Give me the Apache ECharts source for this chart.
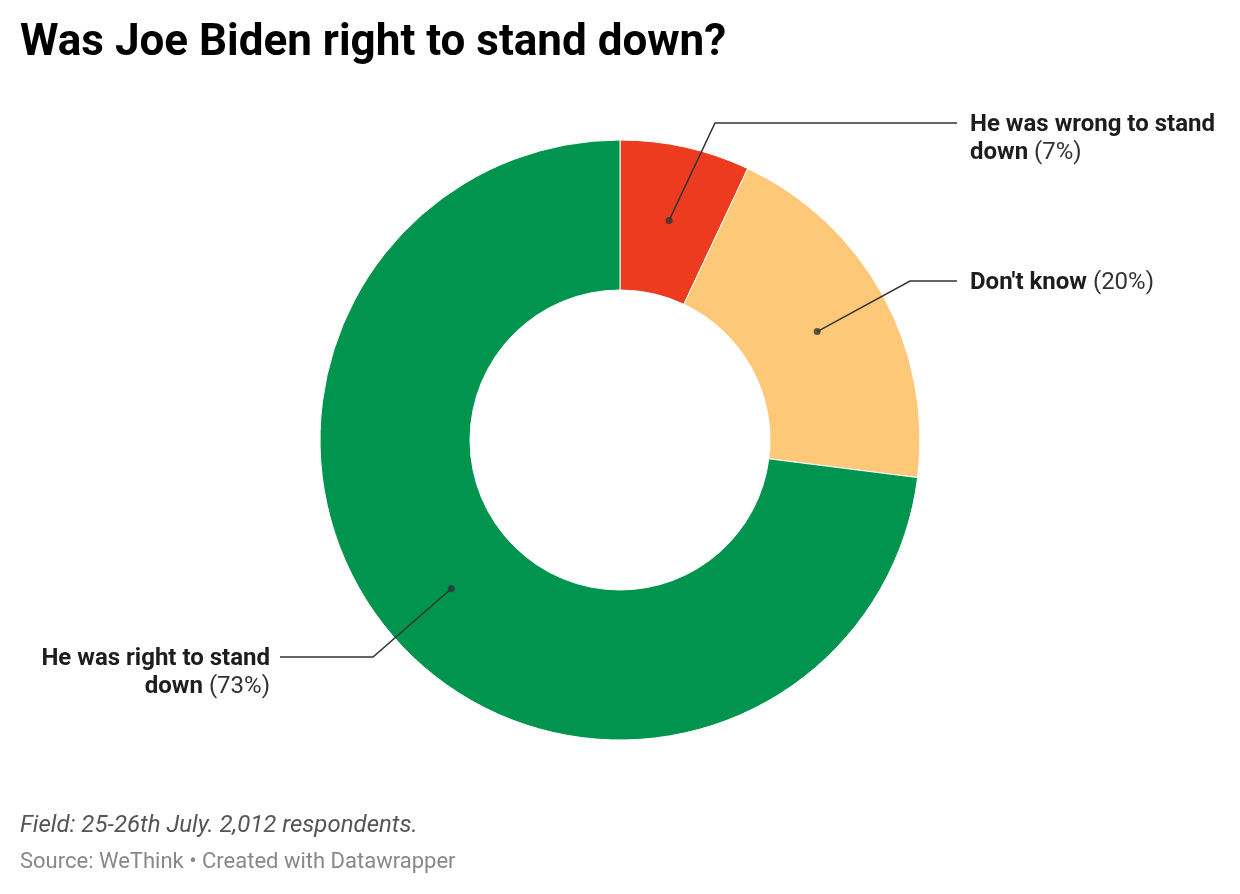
<!DOCTYPE html>
<html>
<head>
<meta charset="utf-8">
<script src="https://cdn.jsdelivr.net/npm/echarts@6/dist/echarts.min.js"></script>
<style>
html,body{margin:0;padding:0;background:#fff;}
#chart{width:1240px;height:894px;}
</style>
</head>
<body>
<div id="chart"></div>
<script>
// ---- data ----
const categories = ['He was wrong to stand down', "Don't know", 'He was right to stand down'];
const values = [7, 20, 73];
const colors = ['#ED3B20', '#FDC978', '#00944F'];
const titleText = 'Was Joe Biden right to stand down?';
const noteText = 'Field: 25-26th July. 2,012 respondents.';
const sourceText = 'Source: WeThink \u2022 Created with Datawrapper';

// ---- layout ----
const CX = 620, CY = 440, R0 = 150, R1 = 300, RDOT = 225;
const FONT = 'Roboto, "Noto Sans", sans-serif';
const LINE_H = 28;
// label placement: [elbowX, lineY, lineEndX, textX, align]
const labelPlace = [
  [715, 123, 957, 970, 'left'],
  [910, 281, 957, 970, 'left'],
  [373, 657, 280, 270, 'right']
];

function wrapName(name) {
  if (name.length > 20) {
    const i = name.lastIndexOf(' ');
    return name.slice(0, i) + '\n' + name.slice(i + 1);
  }
  return name;
}

const total = values.reduce((a, b) => a + b, 0);
let cum = 0;
const dotData = values.map(v => { const mid = cum + v / 2; cum += v; return [RDOT, mid / total * 100]; });
const pieData = categories.map((c, i) => ({name: c, value: values[i], itemStyle: {color: colors[i]}}));

const chart = echarts.init(document.getElementById('chart'), null, {renderer: 'canvas'});
chart.setOption({
  backgroundColor: '#ffffff',
  animation: false,
  title: [
    {text: titleText, left: 20, top: 22, padding: 0, textStyle: {fontFamily: FONT, fontSize: 44, fontWeight: 'bold', color: '#000'}},
    {text: noteText, left: 20, top: 814, padding: 0, textStyle: {fontFamily: FONT, fontSize: 24, fontStyle: 'italic', fontWeight: 'normal', color: '#555'}},
    {text: sourceText, left: 20, top: 851, padding: 0, textStyle: {fontFamily: FONT, fontSize: 22, fontWeight: 'normal', color: '#888'}}
  ],
  polar: {center: [CX, CY], radius: R1},
  angleAxis: {type: 'value', min: 0, max: 100, startAngle: 90, clockwise: true, show: false},
  radiusAxis: {type: 'value', min: 0, max: R1, show: false},
  series: [
    {
      type: 'pie',
      center: [CX, CY],
      radius: [R0, R1],
      startAngle: 90,
      clockwise: true,
      silent: true,
      itemStyle: {borderColor: '#fff', borderWidth: 1},
      label: {show: false},
      labelLine: {show: false},
      data: pieData,
      z: 2
    },
    {
      type: 'pie',
      center: [CX, CY],
      radius: [0, RDOT],
      startAngle: 90,
      clockwise: true,
      silent: true,
      avoidLabelOverlap: false,
      itemStyle: {color: 'rgba(0,0,0,0)', borderWidth: 0},
      data: categories.map((c, i) => ({name: c, value: values[i]})),
      z: 3,
      label: {
        show: true,
        position: 'outside',
        formatter: p => {
          const parts = wrapName(p.name).split('\n');
          const last = parts.pop();
          return parts.map(s => '{b|' + s + '}').concat(['{b|' + last + '}{n| (' + p.value + '%)}']).join('\n');
        },
        rich: {
          b: {fontFamily: FONT, fontSize: 24, fontWeight: 'bold', color: '#1d1d1d', lineHeight: LINE_H},
          n: {fontFamily: FONT, fontSize: 24, fontWeight: 'normal', color: '#333', lineHeight: LINE_H}
        }
      },
      labelLine: {show: true, lineStyle: {color: '#333', width: 1.5}},
      labelLayout: function (params) {
        const pl = labelPlace[params.dataIndex];
        const pts = params.labelLinePoints;
        const p0 = pts ? pts[0] : [CX, CY];
        return {
          x: pl[3],
          y: pl[1] - LINE_H / 2 + 2,
          align: pl[4],
          verticalAlign: 'top',
          labelLinePoints: [p0, [pl[0], pl[1]], [pl[2], pl[1]]]
        };
      }
    },
    {
      type: 'scatter',
      coordinateSystem: 'polar',
      symbol: 'circle',
      symbolSize: 7,
      silent: true,
      itemStyle: {color: '#333'},
      data: dotData,
      z: 5
    }
  ]
});
</script>
</body>
</html>
